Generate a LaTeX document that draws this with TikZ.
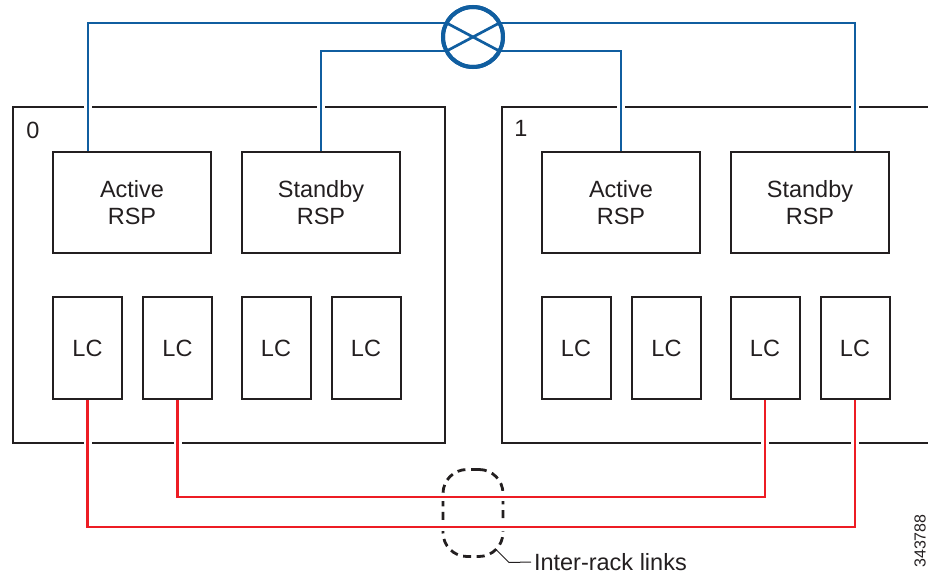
\documentclass[tikz,border=0pt]{standalone}
\usepackage{fontspec}
\setmainfont{Liberation Sans}
\usetikzlibrary{calc}
\definecolor{swblue}{RGB}{16,94,160}
\definecolor{lnkred}{RGB}{237,28,36}
\definecolor{boxline}{RGB}{35,31,32}
\begin{document}
\begin{tikzpicture}[x=0.5pt,y=-0.5pt,
 every node/.style={font=\fontsize{11.75}{13.5}\selectfont, inner sep=0pt, outer sep=0pt, text=boxline},
 rack/.style={draw=boxline, line width=1pt, rectangle, minimum height=168pt},
 rsp/.style={draw=boxline, line width=1pt, fill=white, minimum width=79pt, minimum height=50.5pt, align=center},
 lc/.style={draw=boxline, line width=1pt, fill=white, minimum width=34.5pt, minimum height=51pt},
 halo/.style={preaction={draw=white, line width=4pt}},
 bluelink/.style={draw=swblue, line width=1.35pt, halo},
 redlink/.style={draw=lnkred, line width=1.35pt, halo},
]
\useasboundingbox (0,0) rectangle (928,573);
\clip (0,0) rectangle (928,573);

% racks
\node[rack, minimum width=216pt] (rack0) at (229,275) {};
\node[rack, minimum width=224pt] (rack1) at (726,275) {};
\node (n0) at ($(rack0.north west)+(10pt,-11.5pt)$) {0};
\node (n1) at ($(rack1.north west)+(9.5pt,-10.5pt)$) {1};

% inter-rack dashed outline
\node[draw=boxline, line width=1.4pt, dash pattern=on 4pt off 2.8pt, rounded corners=12pt,
      minimum width=30pt, minimum height=43.5pt] (ir) at (473,513) {};

% switch
\node[circle, draw=swblue, line width=2pt, minimum size=30pt] (sw) at (473,37) {};

% box centres
\path
 (132,202.5) coordinate (ra0c)
 (321,202.5) coordinate (sb0c)
 (621,202.5) coordinate (ra1c)
 (810,202.5) coordinate (sb1c);

% invisible placeholders giving the anchors for the connectors
\node[rsp, draw=none, fill=none] (ra0) at (ra0c) {};
\node[rsp, draw=none, fill=none] (sb0) at (sb0c) {};
\node[rsp, draw=none, fill=none] (ra1) at (ra1c) {};
\node[rsp, draw=none, fill=none] (sb1) at (sb1c) {};
\node[lc, draw=none, fill=none] (lc01) at (87.5,348) {};
\node[lc, draw=none, fill=none] (lc02) at (177.5,348) {};
\node[lc, draw=none, fill=none] (lc13) at (765,348) {};
\node[lc, draw=none, fill=none] (lc14) at (855,348) {};

% blue links
\draw[bluelink] (sw.152) -| ([xshift=17.5pt]ra0.north west);
\draw[bluelink] (sw.208) -| (sb0.north);
\draw[bluelink] (sw.332) -| (ra1.north);
\draw[bluelink] (sw.28) -| ([xshift=-17pt]sb1.north east);
\draw[swblue, line width=1.35pt] (sw.152) -- (sw.332) (sw.208) -- (sw.28);
\node[circle, draw=swblue, line width=2pt, minimum size=30pt] (swring) at (sw) {};

% red links
\draw[redlink] (lc01.south) -- ++(0,-64pt) -| (lc14.south);
\draw[redlink] (lc02.south) -- ++(0,-49pt) -| (lc13.south);

% visible boxes
\node[rsp] (ra0b) at (ra0c) {Active\\RSP};
\node[rsp] (sb0b) at (sb0c) {Standby\\RSP};
\node[rsp] (ra1b) at (ra1c) {Active\\RSP};
\node[rsp] (sb1b) at (sb1c) {Standby\\RSP};
\node[lc] (lc01b) at (lc01) {LC};
\node[lc] (lc02b) at (lc02) {LC};
\node[lc] (lc03) at (276,348) {LC};
\node[lc] (lc04) at (366,348) {LC};
\node[lc] (lc11) at (576,348) {LC};
\node[lc] (lc12) at (666.5,348) {LC};
\node[lc] (lc13b) at (lc13) {LC};
\node[lc] (lc14b) at (lc14) {LC};

% label with leader
\node[anchor=west] (lbl) at (534,562) {Inter-rack links};
\draw[boxline, line width=0.5pt] ($(ir.south east)+(-3.5pt,3.5pt)$) -- ++(6.5pt,-6.5pt) -- ([xshift=-1.5pt]lbl.west);

% figure number
\node[rotate=90, font=\fontsize{8}{9}\selectfont] (fig) at (920,541) {343788};
\end{tikzpicture}
\end{document}
